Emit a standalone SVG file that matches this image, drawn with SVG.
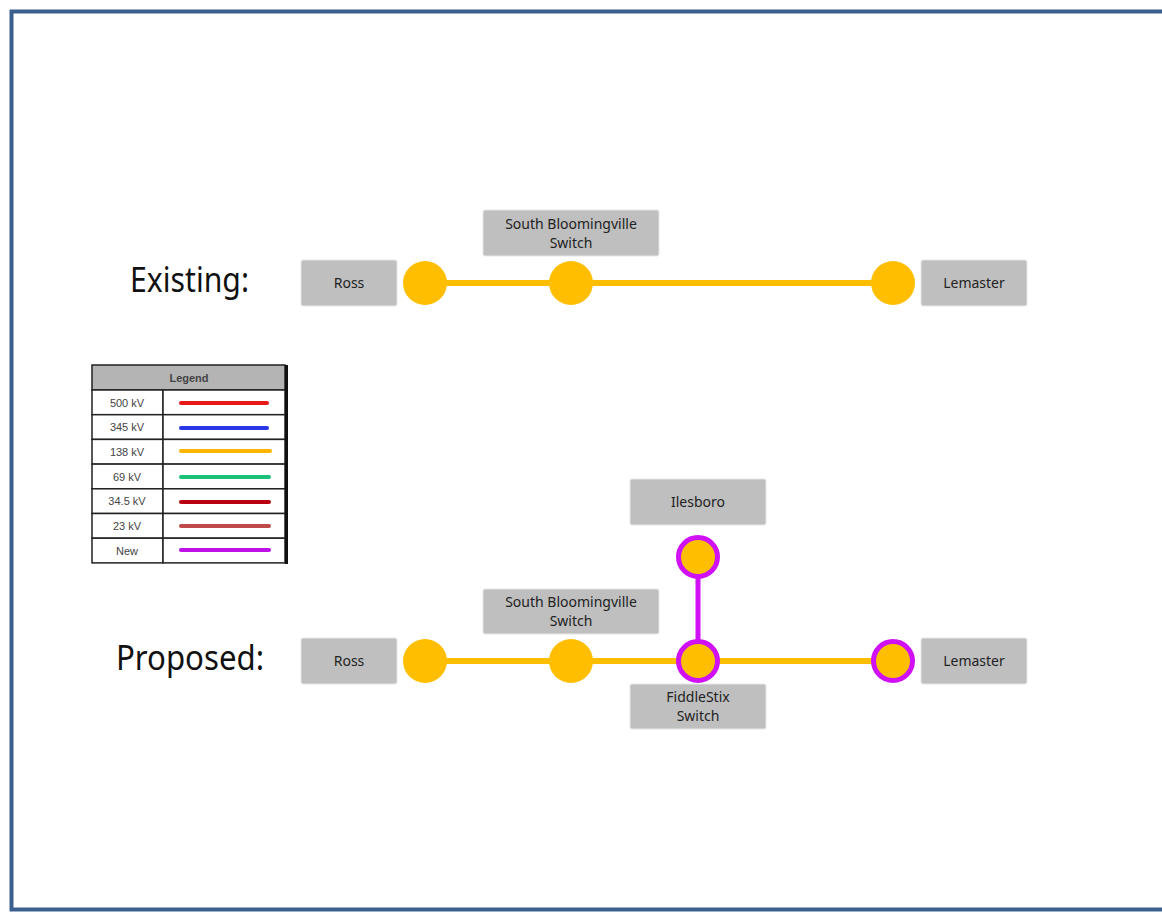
<svg xmlns="http://www.w3.org/2000/svg" width="1162" height="916" viewBox="0 0 1162 916">
<style>
.box{fill:#bfbfbf;stroke:#e6e6e6;stroke-width:1}
.t{font-family:"Noto Sans","Open Sans",sans-serif;font-size:14px;fill:#222;text-anchor:middle}
.big{font-family:"Noto Sans","Open Sans",sans-serif;font-size:34px;fill:#111}
.yl{stroke:#ffbf00;stroke-width:6;fill:none}
.pl{stroke:#d010f5;stroke-width:5;fill:none}
.dot{fill:#ffbf00}
.pdot{fill:#ffbf00;stroke:#d010f5;stroke-width:5}
.lg{font-family:"Liberation Sans",Arial,sans-serif;font-size:11px;fill:#444;text-anchor:middle}
.cell{fill:#fff;stroke:#222;stroke-width:1.5}
</style>
<rect width="1162" height="916" fill="#fff"/>
<rect x="11.5" y="11.5" width="1170" height="898" fill="none" stroke="#3b6090" stroke-width="4"/>

<text class="big" x="130" y="292" textLength="119" lengthAdjust="spacingAndGlyphs">Existing:</text>
<text class="big" x="116" y="670" textLength="148" lengthAdjust="spacingAndGlyphs">Proposed:</text>

<g id="connectors">
<line class="yl" x1="425" y1="283" x2="893" y2="283"/>
<line class="yl" x1="425" y1="661" x2="893" y2="661"/>
<line class="pl" x1="698" y1="557" x2="698" y2="661"/>
</g>

<g id="ex-ross"><rect class="box" x="301" y="260" width="96" height="46" rx="2"/><text class="t" x="349" y="288">Ross</text></g>
<g id="ex-sb"><rect class="box" x="483" y="210" width="176" height="46" rx="2"/><text class="t" x="571" y="229">South Bloomingville</text><text class="t" x="571" y="248">Switch</text></g>
<g id="ex-lem"><rect class="box" x="921" y="260" width="106" height="46" rx="2"/><text class="t" x="974" y="288">Lemaster</text></g>
<g id="ex-ross-bus"><circle class="dot" cx="425" cy="283" r="22"/></g>
<g id="ex-sb-bus"><circle class="dot" cx="571" cy="283" r="22"/></g>
<g id="ex-lem-bus"><circle class="dot" cx="893" cy="283" r="22"/></g>

<g id="pr-ross"><rect class="box" x="301" y="638" width="96" height="46" rx="2"/><text class="t" x="349" y="666">Ross</text></g>
<g id="pr-sb"><rect class="box" x="483" y="589" width="176" height="45" rx="2"/><text class="t" x="571" y="607">South Bloomingville</text><text class="t" x="571" y="626">Switch</text></g>
<g id="pr-lem"><rect class="box" x="921" y="638" width="106" height="46" rx="2"/><text class="t" x="974" y="666">Lemaster</text></g>
<g id="pr-iles"><rect class="box" x="630" y="479" width="136" height="46" rx="2"/><text class="t" x="698" y="507">Ilesboro</text></g>
<g id="pr-fiddle"><rect class="box" x="630" y="684" width="136" height="45" rx="2"/><text class="t" x="698" y="702">FiddleStix</text><text class="t" x="698" y="721">Switch</text></g>
<g id="pr-ross-bus"><circle class="dot" cx="425" cy="661" r="22"/></g>
<g id="pr-sb-bus"><circle class="dot" cx="571" cy="661" r="22"/></g>
<g id="pr-fiddle-bus"><circle class="pdot" cx="698" cy="661" r="19.5"/></g>
<g id="pr-iles-bus"><circle class="pdot" cx="698" cy="557" r="19.5"/></g>
<g id="pr-lem-bus"><circle class="pdot" cx="893" cy="661" r="19.5"/></g>

<g id="legend">
<rect x="91" y="364" width="197" height="200" fill="#fff"/>
<rect x="92" y="365" width="193" height="25" fill="#b4b4b4" stroke="#222" stroke-width="1.5"/>
<text class="lg" x="189" y="382" font-weight="bold" fill="#333">Legend</text>
<rect class="cell" x="92" y="390" width="71" height="24.7"/><rect class="cell" x="163" y="390" width="122" height="24.7"/>
<rect class="cell" x="92" y="414.7" width="71" height="24.7"/><rect class="cell" x="163" y="414.7" width="122" height="24.7"/>
<rect class="cell" x="92" y="439.4" width="71" height="24.7"/><rect class="cell" x="163" y="439.4" width="122" height="24.7"/>
<rect class="cell" x="92" y="464.1" width="71" height="24.7"/><rect class="cell" x="163" y="464.1" width="122" height="24.7"/>
<rect class="cell" x="92" y="488.8" width="71" height="24.7"/><rect class="cell" x="163" y="488.8" width="122" height="24.7"/>
<rect class="cell" x="92" y="513.5" width="71" height="24.7"/><rect class="cell" x="163" y="513.5" width="122" height="24.7"/>
<rect class="cell" x="92" y="538.2" width="71" height="24.7"/><rect class="cell" x="163" y="538.2" width="122" height="24.7"/>
<line x1="286.5" y1="365" x2="286.5" y2="564" stroke="#111" stroke-width="3"/>
<text class="lg" x="127" y="407">500 kV</text>
<text class="lg" x="127" y="431">345 kV</text>
<text class="lg" x="127" y="456">138 kV</text>
<text class="lg" x="127" y="481">69 kV</text>
<text class="lg" x="127" y="505">34.5 kV</text>
<text class="lg" x="127" y="530">23 kV</text>
<text class="lg" x="127" y="555">New</text>
<g stroke-width="4" stroke-linecap="round">
<line x1="181" y1="403" x2="267" y2="403" stroke="#e81818"/>
<line x1="181" y1="428" x2="267" y2="428" stroke="#2a36e8"/>
<line x1="181" y1="451" x2="270" y2="451" stroke="#ffb400"/>
<line x1="181" y1="477" x2="269" y2="477" stroke="#18c078"/>
<line x1="181" y1="502" x2="269" y2="502" stroke="#b80010"/>
<line x1="181" y1="526" x2="269" y2="526" stroke="#c04a4a"/>
<line x1="181" y1="550" x2="269" y2="550" stroke="#c010e8"/>
</g>
</g>
</svg>
